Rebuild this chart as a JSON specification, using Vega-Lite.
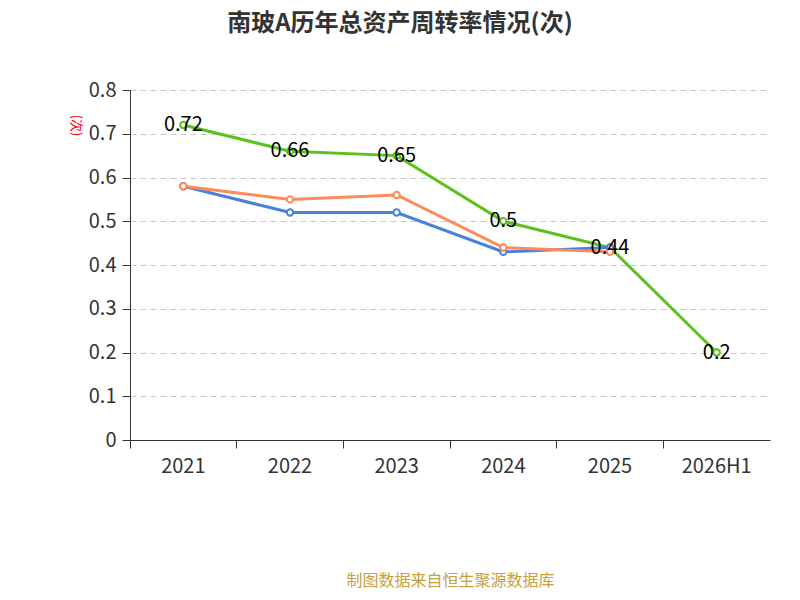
{
"$schema":"https://vega.github.io/schema/vega-lite/v6.json",
"width":640,"height":350,
"autosize":{"type":"none"},
"padding":{"left":130,"top":90,"right":30,"bottom":160},
"background":"white",
"title":{"text":"南玻A历年总资产周转率情况(次)","fontSize":24,"fontWeight":"bold","color":"#333","font":"Noto Sans CJK SC","offset":44,"anchor":"middle","dx":-50},
"config":{"font":"Noto Sans CJK SC","view":{"stroke":null}},
"data":{"values":[
{"year":"2021","s":"公司总资产周转率","v":0.72},
{"year":"2022","s":"公司总资产周转率","v":0.66},
{"year":"2023","s":"公司总资产周转率","v":0.65},
{"year":"2024","s":"公司总资产周转率","v":0.5},
{"year":"2025","s":"公司总资产周转率","v":0.44},
{"year":"2026H1","s":"公司总资产周转率","v":0.2},
{"year":"2021","s":"行业均值","v":0.58},
{"year":"2022","s":"行业均值","v":0.52},
{"year":"2023","s":"行业均值","v":0.52},
{"year":"2024","s":"行业均值","v":0.43},
{"year":"2025","s":"行业均值","v":0.44},
{"year":"2021","s":"行业中位数","v":0.58},
{"year":"2022","s":"行业中位数","v":0.55},
{"year":"2023","s":"行业中位数","v":0.56},
{"year":"2024","s":"行业中位数","v":0.44},
{"year":"2025","s":"行业中位数","v":0.43}
]},
"encoding":{
"x":{"field":"year","type":"nominal","bandPosition":0.5,"sort":null,
"scale":{"type":"band","paddingInner":0,"paddingOuter":0},
"axis":{"bandPosition":0,"labelAngle":0,"labelFontSize":20,"labelColor":"#333","labelPadding":8,"tickSize":8,"domainColor":"#333","tickColor":"#333",
"title":"制图数据来自恒生聚源数据库","titleColor":"#c8a03c","titleFontSize":16,"titleFontWeight":"normal","titlePadding":96}},
"y":{"field":"v","type":"quantitative","scale":{"domain":[0,0.8]},
"axis":{"tickCount":8,"labelExpr":"datum.value==0?'0':format(datum.value,'.1f')","labelFontSize":20,"labelColor":"#333","labelPadding":6,"tickSize":8,"domain":true,"domainColor":"#333","tickColor":"#333",
"gridDash":[6,4],"gridColor":"#c8c8c8",
"title":"(次)","titleColor":"red","titleFontSize":13,"titleFontWeight":"normal","titleAngle":90,"titleX":-62,"titleY":35}}
},
"layer":[
{"mark":{"type":"line","strokeWidth":3},
"encoding":{"color":{"field":"s","type":"nominal",
"scale":{"domain":["公司总资产周转率","行业均值","行业中位数"],"range":["#5bc21c","#4a80dc","#fd8a58"]},
"legend":null}}},
{"mark":{"type":"point","filled":false,"fill":"white","fillOpacity":1,"opacity":1,"size":40,"strokeWidth":2},
"encoding":{"stroke":{"field":"s","type":"nominal",
"scale":{"domain":["公司总资产周转率","行业均值","行业中位数"],"range":["#5bc21c","#4a80dc","#fd8a58"]},
"legend":{"orient":"none","legendX":-45,"legendY":422,"direction":"horizontal","title":null,"labelFontSize":22,"labelColor":"#333","labelLimit":400,"symbolType":"circle","symbolSize":300,"symbolFillColor":"white","symbolStrokeWidth":2,"columnPadding":40,"labelOffset":10}}}},
{"transform":[{"filter":"datum.s=='公司总资产周转率'"}],
"mark":{"type":"text","fontSize":20,"color":"black"},
"encoding":{"text":{"field":"v","type":"quantitative"}}}
]
}
